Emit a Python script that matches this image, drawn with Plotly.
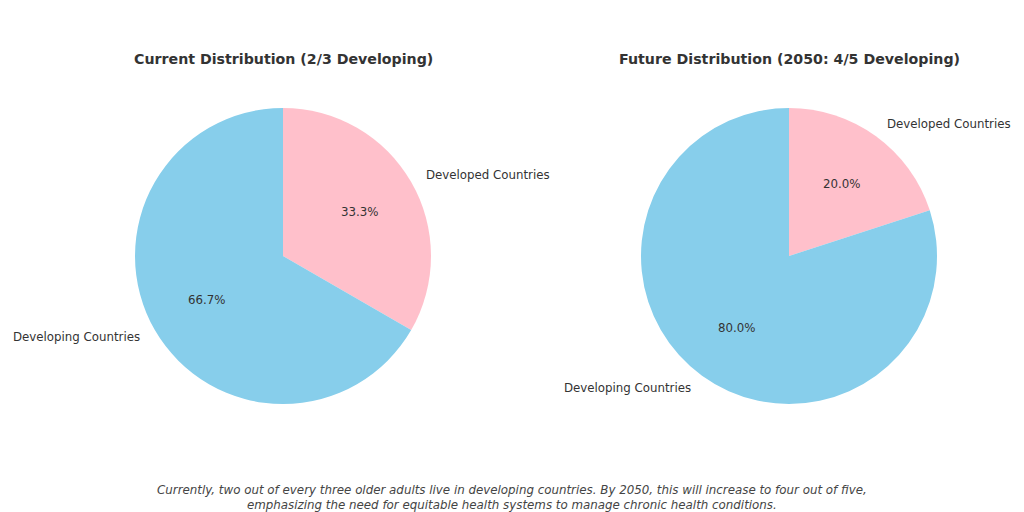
import math
import plotly.graph_objects as go

# Data
categories = ["Developed Countries", "Developing Countries"]
current_values = [1/3, 2/3]
future_values = [0.2, 0.8]
titles = ["Current Distribution (2/3 Developing)", "Future Distribution (2050: 4/5 Developing)"]
colors = ["#FFC0CB", "#87CEEB"]
caption = ("Currently, two out of every three older adults live in developing countries. By 2050, this will increase to four out of five,<br>"
           "emphasizing the need for equitable health systems to manage chronic health conditions.")

W, H = 1024, 512
TEXT = "#333333"
FONT = "DejaVu Sans"

# pie placement (pixels)
centers = [(283, 256), (789, 256)]
R = 148

fig = go.Figure()
annotations = []
for (cx, cy), vals, title in zip(centers, [current_values, future_values], titles):
    dom_x = [(cx - R) / W, (cx + R) / W]
    dom_y = [(H - cy - R) / H, (H - cy + R) / H]
    fig.add_trace(go.Pie(
        labels=categories, values=vals, sort=False, direction="clockwise",
        rotation=0, marker=dict(colors=colors, line=dict(width=0)),
        textinfo="none", hoverinfo="label+percent", showlegend=False,
        domain=dict(x=dom_x, y=dom_y),
    ))
    total = sum(vals)
    start = 0.0
    for lab, v in zip(categories, vals):
        frac = v / total
        mid = (start + frac / 2) * 2 * math.pi
        start += frac
        sx, sy = math.sin(mid), math.cos(mid)
        # percentage at 0.6 r
        px = cx + 0.6 * R * sx
        py = cy - 0.6 * R * sy
        annotations.append(dict(x=px / W, y=1 - py / H, xref="paper", yref="paper",
                                text=f"{frac*100:.1f}%", showarrow=False,
                                xanchor="center", yanchor="middle",
                                font=dict(family=FONT, size=11.8, color=TEXT)))
        lx = cx + 1.1 * R * sx
        ly = cy - 1.1 * R * sy
        annotations.append(dict(x=lx / W, y=1 - ly / H, xref="paper", yref="paper",
                                text=lab, showarrow=False,
                                xanchor="left" if sx > 0 else "right", yanchor="middle",
                                font=dict(family=FONT, size=11.8, color=TEXT)))
    annotations.append(dict(x=cx / W, y=1 - 59 / H, xref="paper", yref="paper",
                            text=f"<b>{title}</b>", showarrow=False,
                            xanchor="center", yanchor="middle",
                            font=dict(family=FONT, size=14.2, color=TEXT)))

annotations.append(dict(x=0.5, y=1 - 497 / H, xref="paper", yref="paper",
                        text=f"<i>{caption}</i>", showarrow=False,
                        xanchor="center", yanchor="middle",
                        font=dict(family=FONT, size=11.85, color="#444444")))

fig.update_layout(
    width=W, height=H, margin=dict(l=0, r=0, t=0, b=0),
    paper_bgcolor="white", plot_bgcolor="white",
    annotations=annotations,
)
fig.write_html("out.html", config={"displayModeBar": False},
               post_script="document.body.style.margin='0';")
